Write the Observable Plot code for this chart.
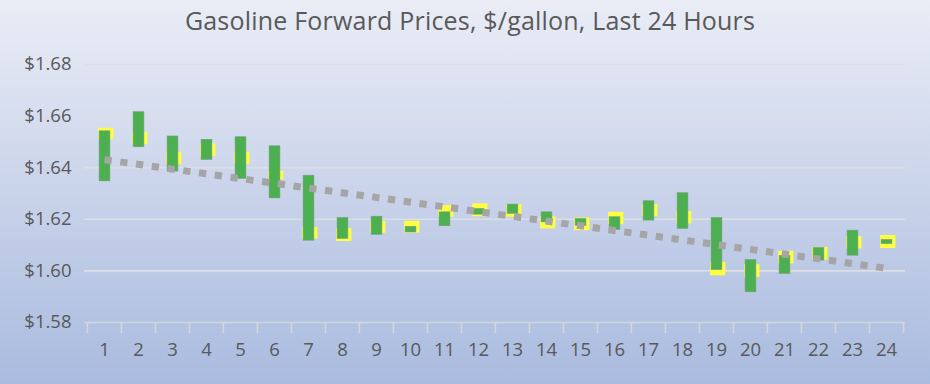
<!DOCTYPE html>
<html>
<head>
<meta charset="utf-8">
<script src="https://cdn.jsdelivr.net/npm/d3@7"></script>
<script src="https://cdn.jsdelivr.net/npm/@observablehq/plot@0.6"></script>
<style>
  html, body { margin: 0; padding: 0; }
  #chart {
    width: 930px; height: 384px; position: relative; overflow: hidden;
    background: linear-gradient(to bottom, #eaedf6 0%, #c9d3ea 50%, #a9bbdf 100%);
    font-family: "Open Sans", sans-serif;
  }
  #title {
    height: 40px; line-height: 40px; text-align: center; color: #595959;
    font-size: 25px; padding-left: 10px; box-sizing: border-box; letter-spacing: 0.2px;
  }
</style>
</head>
<body>
<div id="chart">
  <div id="title">Gasoline Forward Prices, $/gallon, Last 24 Hours</div>
</div>
<script>
const title = "Gasoline Forward Prices, $/gallon, Last 24 Hours";
const hours = [1,2,3,4,5,6,7,8,9,10,11,12,13,14,15,16,17,18,19,20,21,22,23,24];
const greenHi = [1.6541,1.6615,1.6521,1.6508,1.6518,1.6483,1.6369,1.6205,1.6210,1.6171,1.6227,1.6240,1.6257,1.6227,1.6201,1.6208,1.6270,1.6301,1.6205,1.6042,1.6058,1.6089,1.6156,1.6120];
const greenLo = [1.6347,1.6479,1.6385,1.6430,1.6357,1.6281,1.6117,1.6124,1.6140,1.6149,1.6173,1.6218,1.6221,1.6188,1.6175,1.6159,1.6195,1.6163,1.6003,1.5917,1.5988,1.6040,1.6059,1.6104];
const yellowHi = [1.6553,1.6537,1.6460,1.6492,1.6460,1.6386,1.6169,1.6165,1.6192,1.6192,1.6253,1.6260,1.6257,1.6210,1.6205,1.6227,1.6257,1.6230,1.6033,1.6024,1.6076,1.6091,1.6133,1.6137];
const yellowLo = [1.6508,1.6490,1.6412,1.6443,1.6412,1.6353,1.6124,1.6114,1.6146,1.6146,1.6208,1.6210,1.6208,1.6163,1.6156,1.6179,1.6210,1.6182,1.5981,1.5975,1.6027,1.6042,1.6085,1.6087];
const trendHours = [1, 24];
const trendValues = [1.6431, 1.6010];
const yTicks = [1.58, 1.60, 1.62, 1.64, 1.66, 1.68];

document.getElementById("title").textContent = title;

const rows = hours.map((h, i) => ({hour: h, gHi: greenHi[i], gLo: greenLo[i], yHi: yellowHi[i], yLo: yellowLo[i]}));
const trend = trendHours.map((h, i) => ({hour: h, value: trendValues[i]}));

const W = 930, H = 344;
const mL = 84, mR = 25, mT = 24, mB = 62;
const band = (W - mL - mR) / hours.length;

const plot = Plot.plot({
  width: W, height: H,
  marginLeft: mL, marginRight: mR, marginTop: mT, marginBottom: mB,
  style: {background: "transparent", fontFamily: "'Open Sans', sans-serif", fontSize: "18px", color: "#595959"},
  x: {type: "band", domain: hours, padding: 0},
  y: {domain: [1.58, 1.68]},
  marks: [
    Plot.gridY(yTicks.slice(1), {stroke: "#dcdee3", strokeOpacity: 1, strokeWidth: 1.6}),
    Plot.ruleY([1.58], {stroke: "#d2d6de", strokeWidth: 1.6}),
    Plot.ruleX(hours, {x: d => d, dx: -band / 2, y1: 1.58, y2: 1.58, insetBottom: -11, stroke: "#d2d6de", strokeWidth: 1.6}),
    Plot.ruleX([hours[hours.length - 1]], {x: d => d, dx: band / 2, y1: 1.58, y2: 1.58, insetBottom: -11, stroke: "#d2d6de", strokeWidth: 1.6}),
    Plot.axisY(yTicks, {tickSize: 0, tickPadding: 13, tickFormat: d => "$" + d.toFixed(2), label: null, fill: "#595959", fontSize: 18.5}),
    Plot.axisX(hours, {tickSize: 0, tickPadding: 20, label: null, fill: "#595959", fontSize: 18.5}),
    Plot.barY(rows, {x: "hour", y1: "yLo", y2: "yHi", fill: "#ffff40", insetLeft: band / 2 - 6, insetRight: band / 2 - 9.5}),
    Plot.barY(rows, {x: "hour", y1: "gLo", y2: "gHi", fill: "#4caf50", stroke: "#7a9e7c", strokeWidth: 0.6, insetLeft: band / 2 - 5, insetRight: band / 2 - 6}),
    Plot.line(trend, {x: "hour", y: "value", stroke: "#a5a5a5", strokeWidth: 7, strokeDasharray: "7.3 8.6", strokeLinecap: "butt"})
  ]
});
document.getElementById("chart").appendChild(plot);
</script>
</body>
</html>
